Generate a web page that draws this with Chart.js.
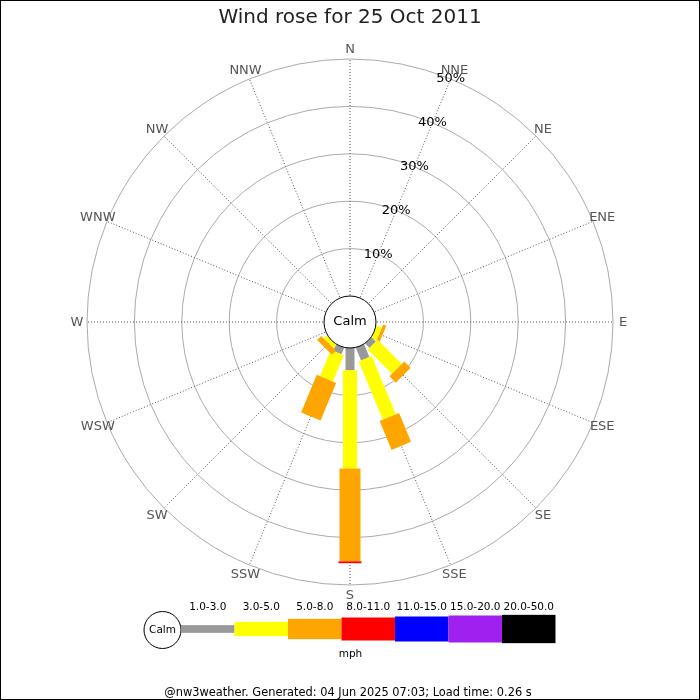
<!DOCTYPE html>
<html>
<head>
<meta charset="utf-8">
<script src="https://cdn.jsdelivr.net/npm/chart.js@4/dist/chart.umd.min.js"></script>
<style>
html,body{margin:0;padding:0;background:#fff;}
#wrap{width:700px;height:700px;}
</style>
</head>
<body>
<div id="wrap"><canvas id="c" width="700" height="700"></canvas></div>
<script>
// ---- data ----
const directions = ['N','NNE','NE','ENE','E','ESE','SE','SSE','S','SSW','SW','WSW','W','WNW','NW','NNW'];
const speedClasses = ['1.0-3.0','3.0-5.0','5.0-8.0','8.0-11.0','11.0-15.0','15.0-20.0','20.0-50.0'];
const speed1to3   = [0,0,0,0,0,0,  1.3, 2.9, 4.7, 1.5, 0,   0,0,0,0,0];
const speed3to5   = [0,0,0,0,0,1.2,7.2,13.3,20.7, 6.0, 0.9, 0,0,0,0,0];
const speed5to8   = [0,0,0,0,0,0.7,1.9, 6.6,19.6, 8.6, 1.2, 0,0,0,0,0];
const speed8to11  = [0,0,0,0,0,0,  0,   0,   0.4, 0,   0,   0,0,0,0,0];
const speed11to15 = [0,0,0,0,0,0,0,0,0,0,0,0,0,0,0,0];
const speed15to20 = [0,0,0,0,0,0,0,0,0,0,0,0,0,0,0,0];
const speed20to50 = [0,0,0,0,0,0,0,0,0,0,0,0,0,0,0,0];
const tickValues = [10,20,30,40,50];
const tickLabels = ['10%','20%','30%','40%','50%'];
const unitLabel = 'mph';
const calmLabel = 'Calm';
const titleText = 'Wind rose for 25 Oct 2011';
const footerText = '@nw3weather. Generated: 04 Jun 2025 07:03; Load time: 0.26 s';

// ---- styles ----
const classColors = ['#999999','#ffff00','#ffa500','#ff0000','#0000ff','#a020f0','#000000'];
const classWidths = [9,14,21,23,25,27,28];
const legendHeights = [7.7, 14.3, 20.3, 23, 25, 27, 28.3];
const calmOffset = -5.485;   // scale minimum so that 0% sits on the calm circle
const FONT = "'DejaVu Sans', sans-serif";

const seriesList = [speed1to3, speed3to5, speed5to8, speed8to11, speed11to15, speed15to20, speed20to50];

const windRosePlugin = {
  id: 'windrose',
  afterDatasetsDraw(chart) {
    const ctx = chart.ctx;
    const r = chart.scales.r;
    // stacked bars
    for (let i = 0; i < directions.length; i++) {
      let cum = 0;
      chart.data.datasets.forEach((ds, k) => {
        const v = ds.data[i];
        if (!v) return;
        const p0 = r.getPointPositionForValue(i, cum);
        const p1 = r.getPointPositionForValue(i, cum + v);
        ctx.save();
        ctx.strokeStyle = classColors[k];
        ctx.lineWidth = classWidths[k];
        ctx.lineCap = 'butt';
        ctx.beginPath();
        ctx.moveTo(p0.x, p0.y);
        ctx.lineTo(p1.x, p1.y);
        ctx.stroke();
        ctx.restore();
        cum += v;
      });
    }
    // calm circle
    const rc = r.getDistanceFromCenterForValue(0);
    ctx.save();
    ctx.beginPath();
    ctx.arc(r.xCenter, r.yCenter, rc, 0, Math.PI * 2);
    ctx.fillStyle = '#fff';
    ctx.fill();
    ctx.strokeStyle = '#000';
    ctx.lineWidth = 1;
    ctx.stroke();
    ctx.fillStyle = '#000';
    ctx.font = '13px ' + FONT;
    ctx.textAlign = 'center';
    ctx.textBaseline = 'middle';
    ctx.fillText(calmLabel, r.xCenter, r.yCenter);
    // tick labels along the NNE spoke
    tickValues.forEach((v, j) => {
      const p = r.getPointPositionForValue(1, v);
      ctx.fillText(tickLabels[j], p.x, p.y);
    });
    // direction labels
    ctx.fillStyle = '#555';
    const outer = r.getDistanceFromCenterForValue(r.max);
    directions.forEach((d, i) => {
      const p = r.getPointPosition(i, outer + 10);
      ctx.fillText(d, p.x, p.y + 0.5);
    });
    // legend
    const legLeft = 181, segW = 53.5, legY = 629;
    ctx.beginPath();
    ctx.arc(162.5, 630, 18.5, 0, Math.PI * 2);
    ctx.fillStyle = '#fff';
    ctx.fill();
    ctx.strokeStyle = '#000';
    ctx.stroke();
    ctx.fillStyle = '#000';
    ctx.font = '10.5px ' + FONT;
    ctx.fillText(calmLabel, 162.5, 630);
    speedClasses.forEach((lab, k) => {
      const x = legLeft + k * segW;
      const h = legendHeights[k];
      ctx.fillStyle = classColors[k];
      ctx.fillRect(x, legY - h / 2, segW, h);
      ctx.fillStyle = '#000';
      ctx.fillText(lab, x + segW / 2, 607);
    });
    ctx.fillText(unitLabel, 350.5, 654);
    ctx.font = '11.4px ' + FONT;
    ctx.fillStyle = '#000';
    ctx.fillText(footerText, 348, 693);
    // frame
    ctx.strokeStyle = '#000';
    ctx.lineWidth = 1;
    ctx.strokeRect(0.5, 0.5, chart.width - 1, chart.height - 1);
    ctx.restore();
  }
};

new Chart(document.getElementById('c'), {
  type: 'radar',
  data: {
    labels: directions,
    datasets: seriesList.map((s, k) => ({
      label: speedClasses[k],
      data: s,
      borderColor: 'rgba(0,0,0,0)',
      backgroundColor: 'rgba(0,0,0,0)',
      borderWidth: 0,
      pointRadius: 0,
      pointHoverRadius: 0,
      pointHitRadius: 0,
      fill: false
    }))
  },
  options: {
    responsive: false,
    animation: false,
    events: [],
    layout: { padding: { left: 87, right: 87, top: 0, bottom: 115 } },
    plugins: {
      legend: { display: false },
      tooltip: { enabled: false },
      title: {
        display: true,
        text: titleText,
        color: '#222',
        font: { family: FONT, size: 20, weight: 'normal' },
        padding: { top: 6, bottom: 29 }
      }
    },
    scales: {
      r: {
        min: calmOffset,
        max: 50,
        afterBuildTicks: (s) => { s.ticks = [0].concat(tickValues).map(v => ({ value: v })); },
        ticks: { display: false },
        pointLabels: { display: false },
        grid: {
          circular: true,
          color: (c) => c.index === 0 ? 'rgba(0,0,0,0)' : '#aaaaaa',
          lineWidth: 1
        },
        angleLines: { color: '#555', lineWidth: 1, borderDash: [1, 2] }
      }
    }
  },
  plugins: [windRosePlugin]
});
</script>
</body>
</html>
